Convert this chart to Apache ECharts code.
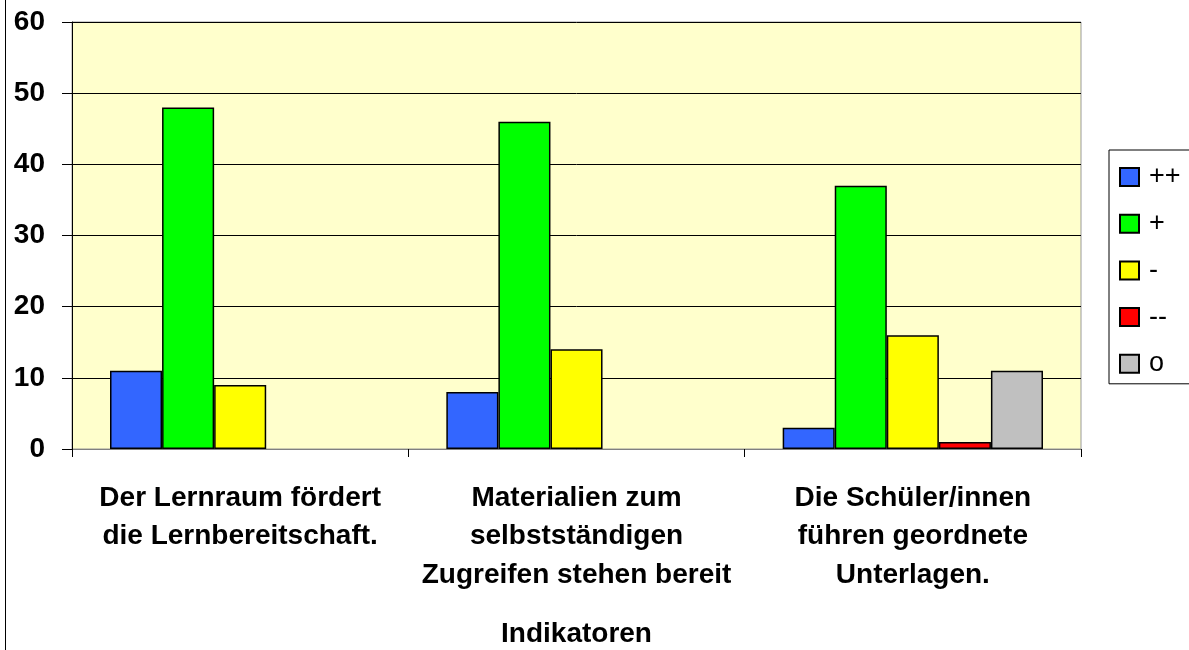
<!DOCTYPE html>
<html>
<head>
<meta charset="utf-8">
<script src="https://cdn.jsdelivr.net/npm/echarts@6/dist/echarts.min.js"></script>
<style>
  html, body { margin: 0; padding: 0; background: #fff; }
  #chart { width: 1189px; height: 650px; }
</style>
</head>
<body>
<div id="chart"></div>
<script>
const categories = [
  'Der Lernraum fördert\ndie Lernbereitschaft.',
  'Materialien zum\nselbstständigen\nZugreifen stehen bereit',
  'Die Schüler/innen\nführen geordnete\nUnterlagen.'
];
const seriesNames = ['++', '+', '-', '--', 'o'];
const seriesColors = ['#3366FF', '#00FF00', '#FFFF00', '#FF0000', '#C0C0C0'];
const valuesPlusPlus = [11, 8, 3];
const valuesPlus = [48, 46, 37];
const valuesMinus = [9, 14, 16];
const valuesMinusMinus = [0, 0, 1];
const valuesNeutral = [0, 0, 11];
const yTicks = [0, 10, 20, 30, 40, 50, 60];

const allValues = [valuesPlusPlus, valuesPlus, valuesMinus, valuesMinusMinus, valuesNeutral];
const font = 'Liberation Sans, Arial';

let chartDom = document.getElementById('chart');
let chart = echarts.init(chartDom, null, {renderer: 'canvas'});

// zero values get no outline, like in the original chart
let series = seriesNames.map(function (name, i) {
  return {
    name: name,
    type: 'bar',
    data: allValues[i].map(function (v) {
      return v === 0 ? {value: v, itemStyle: {borderWidth: 0}} : v;
    }),
    barGap: '0%',
    barCategoryGap: '22.6%',
    itemStyle: {
      color: seriesColors[i],
      borderColor: '#000',
      borderWidth: 1.5
    }
  };
});

let option = {
  animation: false,
  graphic: [
    {
      type: 'line',
      shape: { x1: 5.5, y1: 0, x2: 5.5, y2: 650 },
      style: { stroke: '#000', lineWidth: 1 }
    }
  ],
  grid: {
    left: 72,
    right: 108,
    top: 22,
    bottom: 201,
    containLabel: false,
    outerBoundsMode: 'none',
    show: true,
    backgroundColor: '#FFFFCC',
    borderColor: '#999',
    borderWidth: 1
  },
  legend: {
    orient: 'vertical',
    left: 1109,
    top: 150,
    width: 120,
    padding: [13, 40, 6, 10],
    itemWidth: 19,
    itemHeight: 18,
    itemGap: 18.7,
    icon: 'rect',
    borderColor: '#000',
    borderWidth: 1,
    textStyle: {
      fontFamily: font,
      fontSize: 27,
      lineHeight: 28,
      color: '#000',
      padding: [0, 0, 0, 5]
    },
    data: seriesNames
  },
  xAxis: {
    type: 'category',
    data: categories,
    name: 'Indikatoren',
    nameLocation: 'middle',
    nameGap: 171,
    nameTextStyle: {
      fontFamily: font,
      fontSize: 28,
      fontWeight: 'bold',
      color: '#000'
    },
    axisLine: { lineStyle: { color: '#808080', width: 1 } },
    axisTick: {
      show: true,
      alignWithLabel: false,
      length: 8,
      lineStyle: { color: '#000' }
    },
    axisLabel: {
      interval: 0,
      margin: 30,
      fontFamily: font,
      fontSize: 28,
      fontWeight: 'bold',
      lineHeight: 38.5,
      color: '#000'
    }
  },
  yAxis: {
    type: 'value',
    min: yTicks[0],
    max: yTicks[yTicks.length - 1],
    interval: 10,
    axisLine: { show: true, lineStyle: { color: '#000', width: 1 } },
    axisTick: { show: true, inside: false, length: 10, lineStyle: { color: '#000' } },
    splitLine: { show: true, lineStyle: { color: '#000', width: 1 } },
    axisLabel: {
      margin: 27,
      fontFamily: font,
      fontSize: 28,
      fontWeight: 'bold',
      color: '#000'
    }
  },
  series: series
};

chart.setOption(option);
window.addEventListener('resize', function () {
  chart.resize();
});
</script>
</body>
</html>
